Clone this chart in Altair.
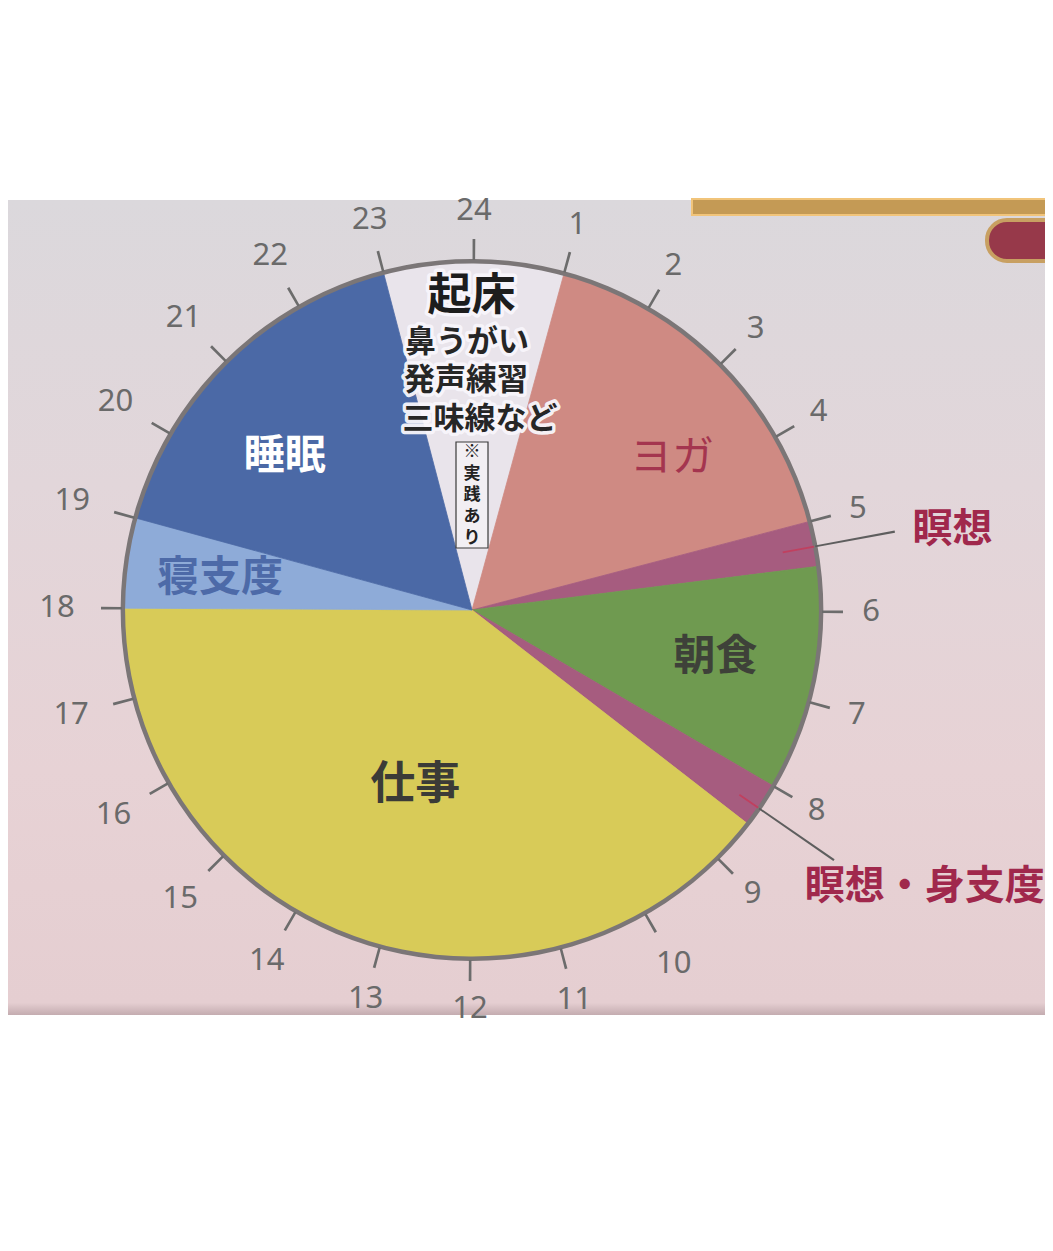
import math
import altair as alt
import pandas as pd

# ---------------- data ----------------
activities = ["起床", "ヨガ", "瞑想", "朝食", "瞑想・身支度", "仕事", "寝支度", "睡眠"]
start_hour = [23.0, 1.0, 5.0, 5.5, 8.0, 8.5, 18.0, 19.0]
end_hour = [25.0, 5.0, 5.5, 8.0, 8.5, 18.0, 19.0, 23.0]
segment_colors = ["#e9e4eb", "#cf8a83", "#a65c7f", "#6f9a50", "#a65c7f",
                  "#d8cb58", "#8eabd8", "#4b69a6"]

clock_hours = list(range(1, 25))
clock_labels = [str(h) for h in clock_hours]

wake_title = "起床"
wake_lines = ["鼻うがい", "発声練習", "三味線など"]
wake_note_chars = ["※", "実", "践", "あ", "り"]

# ---------------- layout ----------------
W, H = 1037, 1235
CX, CY = 464, 602
R = 348
OFF = 0.02 / 24 * 2 * math.pi  # slight clockwise tilt of the whole dial
theta_scale = alt.Scale(domain=[0, 24], range=[OFF, 2 * math.pi + OFF])
JP = "Noto Sans CJK JP"


def polar_text(labels, hours, radii, **kw):
    df = pd.DataFrame({"label": labels, "hour": hours, "r": radii})
    return alt.Chart(df).mark_text(font=JP, align="center", baseline="middle", **kw).encode(
        theta=alt.Theta("hour:Q", scale=theta_scale, stack=False),
        radius=alt.Radius("r:Q", scale=None),
        text="label:N",
        x=alt.value(CX), y=alt.value(CY),
    )


one = pd.DataFrame({"a": [0]})

background = alt.Chart(one).mark_rect(
    fill=alt.LinearGradient(
        gradient="linear", x1=0, x2=0, y1=0, y2=1,
        stops=[alt.GradientStop(offset=0, color="#dbd8dc"),
               alt.GradientStop(offset=0.35, color="#e2d6da"),
               alt.GradientStop(offset=0.7, color="#e7d2d5"),
               alt.GradientStop(offset=0.985, color="#e5ced1"),
               alt.GradientStop(offset=1, color="#c4acb0")])
).encode(x=alt.value(0), x2=alt.value(W), y=alt.value(192), y2=alt.value(1007))

gold_band = alt.Chart(one).mark_rect(fill="#c49a55", stroke="#f1c47a", strokeWidth=2).encode(
    x=alt.value(684), x2=alt.value(W + 5), y=alt.value(191), y2=alt.value(207))

pill = alt.Chart(one).mark_rect(fill="#97394a", stroke="#c8a062", strokeWidth=4, cornerRadius=20).encode(
    x=alt.value(979), x2=alt.value(W + 30), y=alt.value(212), y2=alt.value(253))

seg_df = pd.DataFrame({"activity": activities, "start": start_hour, "end": end_hour,
                       "color": segment_colors})
pie = alt.Chart(seg_df).mark_arc(outerRadius=R, innerRadius=0, strokeWidth=0.8).encode(
    theta=alt.Theta("start:Q", scale=theta_scale, stack=False),
    theta2="end:Q",
    fill=alt.Fill("color:N", scale=None),
    stroke=alt.Stroke("color:N", scale=None),
    x=alt.value(CX), y=alt.value(CY),
)

ring = alt.Chart(pd.DataFrame({"start": [0], "end": [24]})).mark_arc(
    outerRadius=R + 3, innerRadius=R - 1.5, fill="#7b7677").encode(
    theta=alt.Theta("start:Q", scale=theta_scale, stack=False),
    theta2="end:Q", x=alt.value(CX), y=alt.value(CY))

tick_df = pd.DataFrame({"h": clock_hours, "lab": clock_labels})
ticks = alt.Chart(tick_df).transform_calculate(
    s="datum.h - 0.014", e="datum.h + 0.014"
).mark_arc(outerRadius=R + 23, innerRadius=R + 2, fill="#6c6c6c").encode(
    theta=alt.Theta("s:Q", scale=theta_scale, stack=False),
    theta2="e:Q", x=alt.value(CX), y=alt.value(CY))

hour_text = alt.Chart(tick_df).transform_calculate(
    r="399 + (datum.h >= 10 ? 16 * abs(sin(datum.h * PI / 12)) : 0)"
).mark_text(font="Noto Sans", fontSize=31, color="#6a6a6a", align="center", baseline="middle").encode(
    theta=alt.Theta("h:Q", scale=theta_scale, stack=False),
    radius=alt.Radius("r:Q", scale=None),
    text="lab:N", x=alt.value(CX), y=alt.value(CY))

leader_df = pd.DataFrame({
    "s": [5.27, 5.27, 8.28, 8.28],
    "e": [5.29, 5.29, 8.30, 8.30],
    "r0": [316, R + 1, 325, R + 1],
    "r1": [R, 430, R, 440],
    "c": ["#c0405f", "#5e5e5e", "#c0405f", "#5e5e5e"],
})
leaders = alt.Chart(leader_df).mark_arc().encode(
    theta=alt.Theta("s:Q", scale=theta_scale, stack=False),
    theta2="e:Q",
    radius=alt.Radius("r1:Q", scale=None),
    radius2="r0:Q",
    fill=alt.Fill("c:N", scale=None),
    x=alt.value(CX), y=alt.value(CY))

note_box = alt.Chart(one).mark_rect(fill="#f2eff3", stroke="#3a3a3a", strokeWidth=1.2).encode(
    x=alt.value(448), x2=alt.value(480), y=alt.value(434), y2=alt.value(540))

halo = dict(stroke="#f8f6fb", strokeWidth=7, strokeJoin="round", strokeOpacity=0.95)

title_halo = polar_text([wake_title], [23.975], [313], fontSize=44, fontWeight="bold", color="#f8f6fb", **halo)
title_txt = polar_text([wake_title], [23.975], [313], fontSize=44, fontWeight="bold", color="#1d1d1d")
lines_halo = polar_text(wake_lines, [23.91, 23.88, 0.14], [267, 229, 190], fontSize=31, fontWeight="bold",
                        color="#f8f6fb", **halo)
lines_txt = polar_text(wake_lines, [23.91, 23.88, 0.14], [267, 229, 190], fontSize=31, fontWeight="bold",
                       color="#262626")
note_txt = polar_text(wake_note_chars, [23.98] * 5, [158, 136.5, 115, 93.5, 72], fontSize=17,
                      fontWeight="bold", color="#222222")

yoga = polar_text(["ヨガ"], [3.50], [251], fontSize=42, color="#a4354f")
breakfast = polar_text(["朝食"], [6.71], [248], fontSize=42, fontWeight="bold", color="#3e4139")
work = polar_text(["仕事"], [13.18], [184], fontSize=45, fontWeight="bold", color="#3b3b37")
sleep = polar_text(["睡眠"], [20.60], [242], fontSize=41, fontWeight="bold", color="#ffffff")
prep = polar_text(["寝支度"], [18.46], [254], fontSize=42, fontWeight="bold", color="#4d6aa8")
outer = polar_text(["瞑想", "瞑想・身支度"], [5.35, 8.08], [487, 531], fontSize=40, fontWeight="bold",
                   color="#a0284c")

chart = alt.layer(
    background, gold_band, pill, pie, ring, ticks, hour_text, leaders, note_box,
    title_halo, title_txt, lines_halo, lines_txt, note_txt,
    yoga, breakfast, work, sleep, prep, outer,
).properties(
    width=W, height=H, padding=0, autosize=alt.AutoSizeParams(type="none"),
    background="#ffffff",
).configure_view(stroke=None)

chart.save("out.html", embed_options={"renderer": "svg", "actions": False})
